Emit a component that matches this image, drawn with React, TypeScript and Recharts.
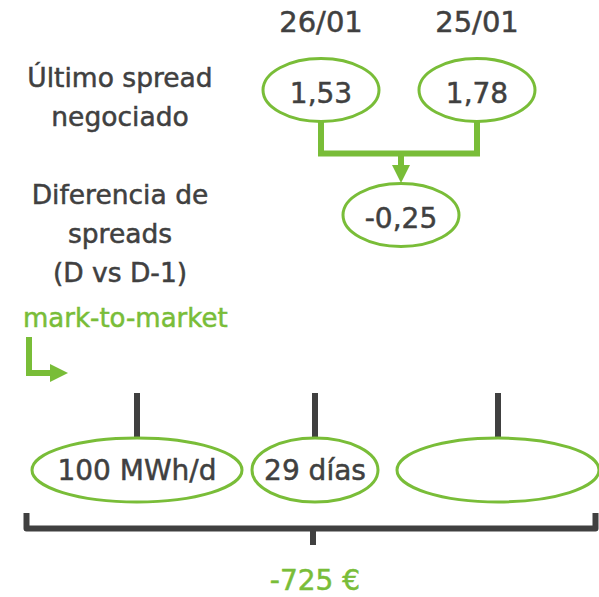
import React from "react";
import { ScatterChart, Scatter, XAxis, YAxis } from "recharts";

// ---- data ----
const dates = ["26/01", "25/01"];
const lastSpread = ["1,53", "1,78"];
const spreadDifference = ["-0,25"];
const rowLabelA = ["Último spread", "negociado"];
const rowLabelB = ["Diferencia de", "spreads", "(D vs D-1)"];
const methodLabel = "mark-to-market";
const factors = ["100 MWh/d", "29 días", ""];
const totalLabel = "-725 €";

// ---- layout / style ----
const W = 599;
const H = 597;
const GREEN = "#79BD38";
const DARK = "#404040";
const FONT = "'DejaVu Sans', sans-serif";
const TS = 0.5; // text stroke for a slightly heavier face

const spreadX = [321, 477];
const diffX = 401;
const factorX = [137, 315, 498];
const factorRx = [105, 63, 101];

const dateData = dates.map((d, i) => ({ x: spreadX[i], y: 32, label: d }));
const spreadData = lastSpread.map((v, i) => ({ x: spreadX[i], y: 90, label: v }));
const diffData = spreadDifference.map((v) => ({ x: diffX, y: 215, label: v }));
const rowLabelData = [
  { x: 120, y: 87, lines: rowLabelA },
  { x: 120, y: 204, lines: rowLabelB },
];
const methodData = [{ x: 23, y: 327, label: methodLabel }];
const factorData = factors.map((f, i) => ({ x: factorX[i], y: 470, label: f, rx: factorRx[i] }));
const totalData = [{ x: 315, y: 590, label: totalLabel }];

const connector = [
  { x: spreadX[0], y: 121 },
  { x: spreadX[0], y: 153.5 },
  { x: spreadX[1], y: 153.5 },
  { x: spreadX[1], y: 121 },
];
const stem = [
  { x: diffX, y: 153 },
  { x: diffX, y: 168 },
];
const arrowTip = [{ x: diffX, y: 183 }];
const lArrow = [
  { x: 29, y: 337 },
  { x: 29, y: 373 },
  { x: 53, y: 373 },
];
const lArrowTip = [{ x: 68, y: 373 }];
const bracket = [
  { x: 26.5, y: 513 },
  { x: 26.5, y: 528.5 },
  { x: 595.5, y: 528.5 },
  { x: 595.5, y: 513 },
];
const bracketTick = [
  { x: 313, y: 528 },
  { x: 313, y: 545 },
];

const Empty = () => <g />;

const DateShape = (p: any) => (
  <text x={p.cx} y={p.cy} textAnchor="middle" fontFamily={FONT} fontSize={29} fill={DARK} stroke={DARK} strokeWidth={TS}>
    {p.payload.label}
  </text>
);

const EllipseShape = (p: any) => (
  <g>
    <ellipse cx={p.cx} cy={p.cy} rx={58} ry={31.5} fill="#fff" stroke={GREEN} strokeWidth={3} />
    <text x={p.cx} y={p.cy + 13} textAnchor="middle" fontFamily={FONT} fontSize={28} fill={DARK} stroke={DARK} strokeWidth={TS}>
      {p.payload.label}
    </text>
  </g>
);

const FactorShape = (p: any) => (
  <g>
    <line x1={p.cx} x2={p.cx} y1={p.cy - 77} y2={p.cy - 32} stroke={DARK} strokeWidth={6} />
    <ellipse cx={p.cx} cy={p.cy} rx={p.payload.rx} ry={32} fill="#fff" stroke={GREEN} strokeWidth={3} />
    <text x={p.cx} y={p.cy + 10} textAnchor="middle" fontFamily={FONT} fontSize={28} fill={DARK} stroke={DARK} strokeWidth={TS}>
      {p.payload.label}
    </text>
  </g>
);

const RowLabelShape = (p: any) => (
  <text x={p.cx} y={p.cy} textAnchor="middle" fontFamily={FONT} fontSize={26.5} fill={DARK} stroke={DARK} strokeWidth={TS}>
    {p.payload.lines.map((l: string, i: number) => (
      <tspan key={i} x={p.cx} dy={i === 0 ? 0 : 39}>
        {l}
      </tspan>
    ))}
  </text>
);

const MethodShape = (p: any) => (
  <text x={p.cx} y={p.cy} textAnchor="start" fontFamily={FONT} fontSize={26} fill={GREEN} stroke={GREEN} strokeWidth={TS}>
    {p.payload.label}
  </text>
);

const TotalShape = (p: any) => (
  <text x={p.cx} y={p.cy} textAnchor="middle" fontFamily={FONT} fontSize={28} fill={GREEN} stroke={GREEN} strokeWidth={TS}>
    {p.payload.label}
  </text>
);

const DownTip = (p: any) => (
  <polygon
    points={`${p.cx},${p.cy} ${p.cx - 9},${p.cy - 18} ${p.cx + 9},${p.cy - 18}`}
    fill={GREEN}
  />
);

const RightTip = (p: any) => (
  <polygon
    points={`${p.cx},${p.cy} ${p.cx - 18},${p.cy - 9} ${p.cx - 18},${p.cy + 9}`}
    fill={GREEN}
  />
);

export default function App() {
  return (
    <div style={{ position: "absolute", left: 0, top: 0, width: W, height: H, background: "#fff" }}>
      <ScatterChart width={W} height={H} margin={{ top: 0, right: 0, bottom: 0, left: 0 }}>
        <XAxis type="number" dataKey="x" domain={[0, W]} hide />
        <YAxis type="number" dataKey="y" domain={[0, H]} reversed hide />
        <Scatter data={connector} line={{ stroke: GREEN, strokeWidth: 6 }} shape={Empty} isAnimationActive={false} />
        <Scatter data={stem} line={{ stroke: GREEN, strokeWidth: 6 }} shape={Empty} isAnimationActive={false} />
        <Scatter data={arrowTip} shape={DownTip} isAnimationActive={false} />
        <Scatter data={lArrow} line={{ stroke: GREEN, strokeWidth: 6 }} shape={Empty} isAnimationActive={false} />
        <Scatter data={lArrowTip} shape={RightTip} isAnimationActive={false} />
        <Scatter data={bracket} line={{ stroke: DARK, strokeWidth: 6, strokeLinejoin: "round" }} shape={Empty} isAnimationActive={false} />
        <Scatter data={bracketTick} line={{ stroke: DARK, strokeWidth: 6 }} shape={Empty} isAnimationActive={false} />
        <Scatter data={dateData} shape={DateShape} isAnimationActive={false} />
        <Scatter data={spreadData} shape={EllipseShape} isAnimationActive={false} />
        <Scatter data={diffData} shape={EllipseShape} isAnimationActive={false} />
        <Scatter data={rowLabelData} shape={RowLabelShape} isAnimationActive={false} />
        <Scatter data={methodData} shape={MethodShape} isAnimationActive={false} />
        <Scatter data={factorData} shape={FactorShape} isAnimationActive={false} />
        <Scatter data={totalData} shape={TotalShape} isAnimationActive={false} />
      </ScatterChart>
    </div>
  );
}
